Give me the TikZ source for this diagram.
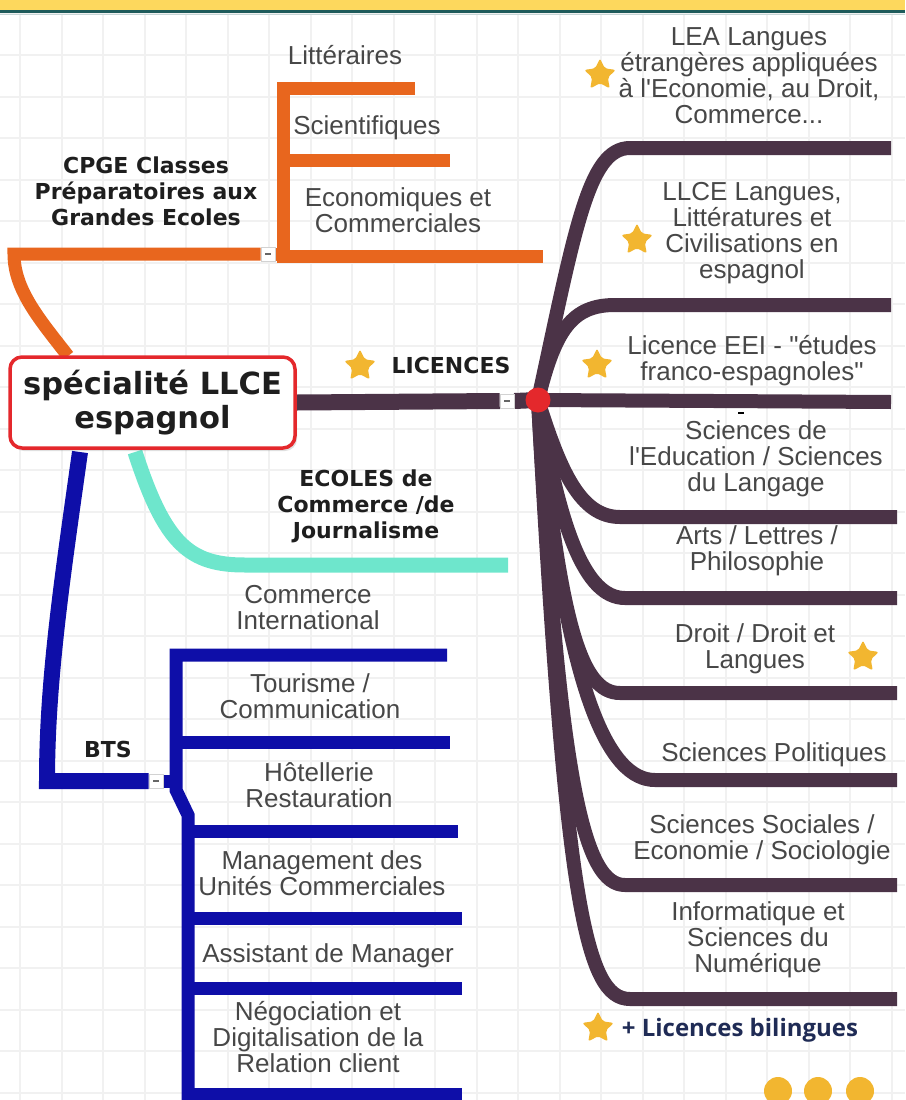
\documentclass[tikz,border=0pt]{standalone}
\usepackage{fontspec}
\setmainfont{Liberation Sans}[Ligatures=TeXOff]
\newfontfamily\headfont{DejaVu Sans}
\newfontfamily\notefont{Open Sans}
\usepackage{tikz}
\usetikzlibrary{positioning,shadows,shapes,backgrounds}

\definecolor{cpgeorange}{HTML}{E8661E}
\definecolor{licplum}{HTML}{4B3347}
\definecolor{ecoteal}{HTML}{6EE6CC}
\definecolor{btsblue}{HTML}{0E0EA8}
\definecolor{stargold}{HTML}{F2B630}
\definecolor{hubred}{HTML}{E4282C}
\definecolor{leafgrey}{HTML}{474747}
\definecolor{headgrey}{HTML}{1E1E1E}
\definecolor{baryellow}{HTML}{FDD85D}
\definecolor{barteal}{HTML}{1E5B5B}
\definecolor{gridgrey}{HTML}{F1F1F1}
\definecolor{notenavy}{HTML}{1F2B55}

\tikzset {
    root box/.style={
        fill=white,
        draw=hubred,
        line width=3.5pt,
        rectangle, % the central box
        rounded corners=12pt,
        minimum width=285pt,
        minimum height=91pt,
        align=center,
        text=headgrey,
        drop shadow={opacity=0.25, shadow xshift=2pt, shadow yshift=-3pt},
        font=\headfont\bfseries\fontsize{30.5}{34}\selectfont,
    },
    leaf text/.style={
        text=leafgrey,
        align=center,
        inner sep=0pt,
        font=\fontsize{26}{26}\selectfont,
    },
    head text/.style={
        text=headgrey,
        align=center,
        inner sep=0pt,
        font=\headfont\bfseries\fontsize{22}{26}\selectfont,
    },
    note text/.style={
        text=notenavy,
        inner sep=0pt,
        font=\notefont\bfseries\fontsize{24}{26}\selectfont,
    },
    fold box/.style={
        fill=white,
        draw=gray!35,
        line width=0.6pt,
        rectangle, % collapse button
        minimum size=14pt,
        inner sep=0pt,
    },
    hub dot/.style={
        circle,
        fill=hubred,
        minimum size=25pt,
        inner sep=0pt,
    },
    gold star/.style={
        star, star points=5, star point ratio=2.0,
        fill=stargold,
        rounded corners=2pt,
        minimum size=33pt,
        inner sep=0pt,
    },
    gold dot/.style={
        circle,
        fill=stargold,
        minimum size=28pt,
        inner sep=0pt,
    },
    cpge line/.style={draw=cpgeorange, line width=13pt},
    lic trunk/.style={draw=licplum, line width=16pt},
    lic line/.style={draw=licplum, line width=14pt},
    eco line/.style={draw=ecoteal, line width=15pt},
    bts trunk/.style={draw=btsblue, line width=16pt},
    bts line/.style={draw=btsblue, line width=13pt},
}

\begin{document}
\begin{tikzpicture}[x=1pt, y=-1pt]

        \useasboundingbox (0,0) rectangle (905,1100);

        % centre
        \node[root box] (root) at (152.5,402.5) {spécialité LLCE\\espagnol};

        % CPGE
        \node[fold box] (cpgeFold) at (268,254) {\color{gray!80!black}\rule{6pt}{1.8pt}};
        \node[head text] (cpge) at (146,191) {CPGE Classes\\Préparatoires aux\\Grandes Ecoles};
        \node[leaf text] (lit) at (345,55) {Littéraires};
        \node[leaf text] (sci) at (367,128) {Scientifiques};
        \node[leaf text] (eco) at (398,210) {Economiques et\\Commerciales};
        \coordinate (cpgeLit) at (415,88);
        \coordinate (cpgeSci) at (450,160);
        \coordinate (cpgeEco) at (543,256);

        % LICENCES
        \node[fold box] (licFold) at (507,401) {\color{gray!80!black}\rule{6pt}{1.8pt}};
        \node[hub dot] (licHub) at (538,400) {};
        \node[gold star] (starLic) at (360,366) {};
        \node[head text] (licences) at (451,365) {LICENCES};

        \node[gold star] (starLea) at (600,75) {};
        \node[leaf text] (lea) at (749,76) {LEA Langues\\étrangères appliquées\\à l'Economie, au Droit,\\Commerce...};
        \node[gold star] (starLlce) at (637,240) {};
        \node[leaf text] (llce) at (752,233) {LLCE Langues,\\Littératures et\\Civilisations en\\espagnol};
        \node[gold star] (starEei) at (597,365) {};
        \node[leaf text] (eei) at (752,361) {Licence EEI - "études\\franco-espagnoles"};
        \node[inner sep=0pt] (stray) at (741,413) {\rule{6pt}{2.5pt}};
        \node[leaf text] (scied) at (756,459) {Sciences de\\l'Education / Sciences\\du Langage};
        \node[leaf text] (arts) at (757,551) {Arts / Lettres /\\Philosophie};
        \node[leaf text] (droit) at (755,649) {Droit / Droit et\\Langues};
        \node[gold star] (starDroit) at (863,657) {};
        \node[leaf text] (scipo) at (774,755) {Sciences Politiques};
        \node[leaf text] (scisoc) at (762,840) {Sciences Sociales /\\Economie / Sociologie};
        \node[leaf text] (info) at (758,940) {Informatique et\\Sciences du\\Numérique};

        \node[gold star] (starBil) at (598,1028) {};
        \node[note text] (bilingues) at (740,1030) {+ Licences bilingues};
        \node[gold dot] (dotA) at (778,1091) {};
        \node[gold dot] (dotB) at (818,1091) {};
        \node[gold dot] (dotC) at (860,1091) {};

        \coordinate (leaEnd) at (891,148);
        \coordinate (llceEnd) at (891,305);
        \coordinate (eeiEnd) at (891,402);
        \coordinate (sciedEnd) at (897,517);
        \coordinate (artsEnd) at (897,598);
        \coordinate (droitEnd) at (897,693);
        \coordinate (scipoEnd) at (897,780);
        \coordinate (scisocEnd) at (897,885);
        \coordinate (infoEnd) at (897,999);

        % ECOLES
        \node[head text] (ecoles) at (366,506) {ECOLES de\\Commerce /de\\Journalisme};
        \coordinate (ecoEnd) at (508,565);

        % BTS
        \node[fold box] (btsFold) at (156,781) {\color{gray!80!black}\rule{6pt}{1.8pt}};
        \node[head text] (bts) at (108,749) {BTS};
        \node[leaf text] (cint) at (308,608) {Commerce\\International};
        \node[leaf text] (tour) at (310,696) {Tourisme /\\Communication};
        \node[leaf text] (hot) at (319,785) {Hôtellerie\\Restauration};
        \node[leaf text] (muc) at (322,873) {Management des\\Unités Commerciales};
        \node[leaf text] (asm) at (328,956) {Assistant de Manager};
        \node[leaf text] (ndrc) at (318,1037) {Négociation et\\Digitalisation de la\\Relation client};
        \coordinate (btsCint) at (447,655);
        \coordinate (btsTour) at (450,742);
        \coordinate (btsHot) at (458,831);
        \coordinate (btsMuc) at (462,918);
        \coordinate (btsAsm) at (462,988);
        \coordinate (btsNdrc) at (462,1094);

        \begin{scope}[on background layer]
            % paper grid and top band
            \draw[gridgrey, line width=2pt, step=41.5pt, shift={(20,55)}] (-20,-55) grid (885,1045);
            \fill[baryellow] (0,0) rectangle (905,10);
            \draw[barteal, line width=3pt] (0,11.5) -- (905,11.5);
            \draw[barteal!25, line width=1pt] (0,14) -- (905,14);

            \draw[cpge line] (68,356) .. controls (40,320) and (14,290) .. (14,254) -- (cpgeFold.west);
            \draw[cpge line] (cpgeFold.east) -- (283,254);
            \draw[cpge line] (cpgeLit) -| (283,256) -- (cpgeEco);
            \draw[cpge line] (283,160) -- (cpgeSci);

            \draw[lic trunk] (root.east) -- (licFold.west);
            \draw[lic trunk] (licFold.east) -- (licHub.center);
            \draw[lic line] (licHub.center) .. controls (575,230) and (588,148) .. (630,148) -- (leaEnd);
            \draw[lic line] (licHub.center) .. controls (555,330) and (572,305) .. (615,305) -- (llceEnd);
            \draw[lic line] (licHub.center) -- (eeiEnd);
            \draw[lic line] (licHub.center) .. controls (560,470) and (580,517) .. (620,517) -- (sciedEnd);
            \draw[lic line] (licHub.center) .. controls (560,530) and (585,598) .. (625,598) -- (artsEnd);
            \draw[lic line] (licHub.center) .. controls (560,620) and (580,693) .. (620,693) -- (droitEnd);
            \draw[lic line] (licHub.center) .. controls (565,700) and (610,780) .. (655,780) -- (scipoEnd);
            \draw[lic line] (licHub.center) .. controls (560,790) and (585,885) .. (625,885) -- (scisocEnd);
            \draw[lic line] (licHub.center) .. controls (565,900) and (585,999) .. (630,999) -- (infoEnd);

            \draw[eco line] (135,452) .. controls (165,545) and (190,565) .. (245,565) -- (ecoEnd);

            \draw[bts trunk] (80,452) .. controls (62,580) and (47,680) .. (47,781) -- (btsFold.west);
            \draw[bts line] (btsFold.east) -- (176,781);
            \draw[bts line] (btsCint) -| (176,790) -- (188,815) -- (188,1110);
            \draw[bts line] (176,742) -- (btsTour);
            \draw[bts line] (188,831) -- (btsHot);
            \draw[bts line] (188,918) -- (btsMuc);
            \draw[bts line] (188,988) -- (btsAsm);
            \draw[bts line] (188,1094) -- (btsNdrc);
        \end{scope}
    \end{tikzpicture}
\end{document}
